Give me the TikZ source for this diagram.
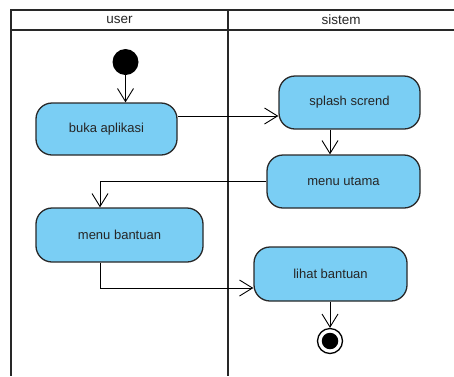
\documentclass[tikz,border=0pt]{standalone}
\usepackage{fontspec}
\setmainfont{Liberation Sans}
\usetikzlibrary{arrows.meta}
\definecolor{actfill}{RGB}{122,206,244}
\definecolor{edge}{RGB}{40,40,40}
\begin{document}
\begin{tikzpicture}[x=1pt,y=-1pt,
  act/.style={draw=edge,line width=1.3pt,fill=actfill,rounded corners=16pt,
    minimum height=53pt,inner sep=0pt,font=\fontsize{13}{15}\selectfont,text=black!85},
  lane/.style={draw=edge,line width=2pt},
  flow/.style={draw=black,line width=0.9pt,-{Straight Barb[length=13pt,width=16pt,line width=0.9pt]}},
  hdr/.style={font=\fontsize{13.5}{15}\selectfont,text=black!85,inner sep=0pt}]
\useasboundingbox (0,0) rectangle (454,376);
% swimlane frame
\coordinate (tl) at (11,10);
\coordinate (tr) at (454,10);
\coordinate (hl) at (11,30);
\coordinate (hr) at (454,30);
\coordinate (bl) at (11,376);
\coordinate (dt) at (228,10);
\coordinate (db) at (228,376);
\draw[lane] (tr) -- (tl) -- (bl);
\draw[lane] (hl) -- (hr);
\draw[lane] (dt) -- (db);
\node[hdr] (huser) at (119.5,20) {user};
\node[hdr] (hsistem) at (341,20) {sistem};
% nodes
\node[circle,fill=black,minimum size=26pt,inner sep=0pt] (init) at (125.5,62) {};
\node[act,minimum width=141pt,minimum height=52pt] (buka) at (106.5,129) {buka aplikasi};
\node[act,minimum width=141pt] (splash) at (349.5,102.5) {splash scrend};
\node[act,minimum width=153pt] (mu) at (343.5,181.5) {menu utama};
\node[act,minimum width=167pt,minimum height=54pt] (mb) at (119.5,235) {menu bantuan};
\node[act,minimum width=153pt,minimum height=54pt] (lb) at (330.5,274) {lihat bantuan};
\node[circle,draw=black,line width=1.3pt,fill=white,minimum size=25pt,inner sep=0pt] (final) at (330,341) {};
\node[circle,fill=black,minimum size=16.5pt,inner sep=0pt] (finaldot) at (final) {};
% helper coordinates
\coordinate (c1) at (330,0);
\coordinate (c2) at (100,0);
\coordinate (c3) at (0,288);
\coordinate (c4) at (0,116);
% flows
\draw[flow] (init) -- (init |- buka.north);
\draw[flow] (buka.east |- c4) -- (splash.west |- c4);
\draw[flow] (splash.south -| c1) -- (mu.north -| c1);
\draw[flow] (mu.west) -| (mb.north -| c2);
\draw[flow] (mb.south -| c2) |- (lb.west |- c3);
\draw[flow] (lb.south -| c1) -- (final.north -| c1);
\end{tikzpicture}
\end{document}
